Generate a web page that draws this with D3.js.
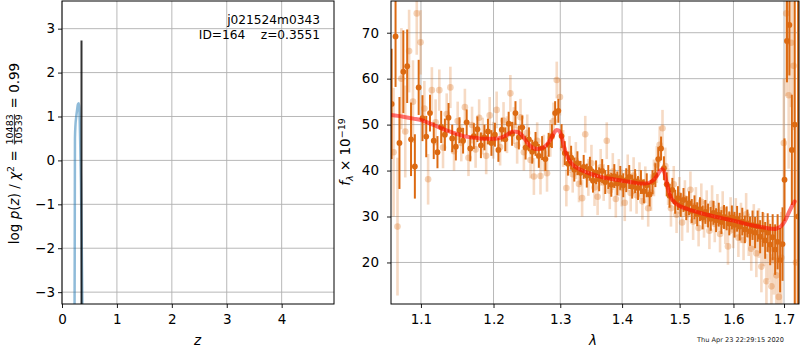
<!DOCTYPE html>
<html><head><meta charset="utf-8">
<script src="https://cdn.jsdelivr.net/npm/d3@7"></script>
<style>
body{margin:0;background:#fff}
svg text{font-family:"DejaVu Sans",sans-serif;white-space:pre}
</style>
</head><body>
<svg id="c" width="800" height="350"></svg>
<script>
// ---------- left panel data: log p(z) ----------
const zGrid  = [0.225,0.232,0.236,0.245,0.26,0.275,0.29,0.305,0.315,0.33,0.345,0.36,0.375,0.385];
const logPz  = [-5.0,-2.0,0.5,0.8,1.0,1.15,1.28,1.3,1.2,0.5,-0.5,-2.0,-3.8,-5.0];
const zBest = 0.3551;
const logPzBest = 2.73;
const zTicks  = [0,1,2,3,4];
const pzTicks = [-3,-2,-1,0,1,2,3];
const fieldName = "j021524m0343";
const idText = "ID=164    z=0.3551";

// ---------- right panel data: spectrum ----------
const waveTicks = [1.1,1.2,1.3,1.4,1.5,1.6,1.7];
const fluxTicks = [20,30,40,50,60,70];

const darkWave = [1.062,1.067,1.072,1.077,1.082,1.087,1.092,1.097,
1.102,1.107,1.112,1.117,1.122,1.127,1.132,1.137,1.142,1.147,
1.152,1.157,1.162,1.167,1.172,1.177,1.182,1.187,1.192,1.197,
1.202,1.207,1.212,1.217,1.222,1.227,1.232,1.237,1.242,1.247,
1.252,1.257,1.262,1.267,1.272,1.277,1.282,1.287,1.292,1.297,
1.302,1.307,1.312,1.317,1.322,1.327,1.332,1.337,1.342,1.347,
1.352,1.357,1.362,1.367,1.372,1.377,1.382,1.387,1.392,1.397,
1.402,1.407,1.412,1.417,1.422,1.427,1.432,1.437,1.442,1.447,
1.452,1.457,1.462,1.467,1.472,1.477,1.482,1.487,1.492,1.497,
1.502,1.507,1.512,1.517,1.522,1.527,1.532,1.537,1.542,1.547,
1.552,1.557,1.562,1.567,1.572,1.577,1.582,1.587,1.592,1.597,
1.602,1.607,1.612,1.617,1.622,1.627,1.632,1.637,1.642,1.647,
1.652,1.657,1.662,1.667,1.672,1.677,1.682,1.687,1.692,1.697,
1.701,1.706,1.711,1.716,1.722,1.729];
const darkFlux = [54.5,69.2,46.0,61.5,62.7,46.8,40.9,58.1,
51.4,47.4,52.5,46.5,44.0,49.5,47.8,51.5,47.0,45.2,
48.8,46.5,50.5,44.8,47.5,49.0,45.5,47.2,48.5,46.0,
47.8,44.5,48.9,46.8,50.2,48.0,52.5,47.2,49.4,45.0,
46.8,44.1,45.8,43.2,44.9,42.5,45.6,47.5,52.5,53.0,
47.5,43.8,41.5,42.8,40.2,41.6,39.5,40.8,38.9,40.4,
37.8,39.6,38.1,39.9,37.5,38.6,36.9,38.8,37.2,38.4,
36.8,37.9,38.6,36.5,37.7,36.2,37.5,35.5,36.8,34.8,
37.5,39.0,42.5,44.8,40.5,37.0,34.5,35.8,33.2,34.0,
32.5,33.6,31.8,32.9,31.2,32.0,30.5,31.6,29.8,31.0,
30.2,29.5,30.8,29.2,30.4,28.8,29.9,29.6,28.5,29.8,
28.2,29.5,27.8,28.9,27.2,28.5,26.8,28.1,26.5,27.9,
25.6,27.2,24.8,26.5,23.9,25.5,22.8,24.5,20.5,24.0,
38.0,68.2,71.7,44.5,50.0,30.0];
const darkErr = [12,11,10,9,8,8,7,6,
5,4.5,4,4,3.5,3.5,3.5,3.2,3,3,
2.8,2.8,2.8,2.8,2.8,2.8,2.8,2.8,2.8,2.8,
2.6,2.6,2.6,2.6,2.6,2.6,2.6,2.6,2.6,2.6,
2.6,2.6,2.6,2.6,2.6,2.6,2.6,2.6,2.6,2.6,
2.6,2.6,2.6,2.6,2.6,2.6,2.6,2.6,2.6,2.6,
2.6,2.6,2.6,2.6,2.6,2.6,2.6,2.6,2.6,2.6,
2.6,2.6,2.6,2.6,2.6,2.6,2.6,2.6,2.6,2.6,
2.6,2.6,2.6,2.6,2.6,2.6,2.6,2.6,2.6,2.6,
2.6,2.6,2.6,2.6,2.6,2.6,2.6,2.6,2.6,2.6,
2.6,2.6,2.6,2.6,2.6,2.6,2.6,2.6,2.6,2.6,
2.8,2.8,3,3,3,3,3.2,3.2,3.4,3.4,
3.6,3.8,4,4.2,4.5,5,5.5,6,7,8,
9,9,11,12,45,55];

const lightWave = [1.0645,1.0695,1.0745,1.0795,1.0845,1.0895,1.0945,1.0995,
1.1045,1.1095,1.1145,1.1195,1.1245,1.1295,1.1345,1.1395,1.1445,1.1495,
1.1545,1.1595,1.1645,1.1695,1.1745,1.1795,1.1845,1.1895,1.1945,1.1995,
1.2045,1.2095,1.2145,1.2195,1.2245,1.2295,1.2345,1.2395,1.2445,1.2495,
1.2545,1.2595,1.2645,1.2695,1.2745,1.2795,1.2845,1.2895,1.2945,1.2995,
1.3045,1.3095,1.3145,1.3195,1.3245,1.3295,1.3345,1.3395,1.3445,1.3495,
1.3545,1.3595,1.3645,1.3695,1.3745,1.3795,1.3845,1.3895,1.3945,1.3995,
1.4045,1.4095,1.4145,1.4195,1.4245,1.4295,1.4345,1.4395,1.4445,1.4495,
1.4545,1.4595,1.4645,1.4695,1.4745,1.4795,1.4845,1.4895,1.4945,1.4995,
1.5045,1.5095,1.5145,1.5195,1.5245,1.5295,1.5345,1.5395,1.5445,1.5495,
1.5545,1.5595,1.5645,1.5695,1.5745,1.5795,1.5845,1.5895,1.5945,1.5995,
1.6045,1.6095,1.6145,1.6195,1.6245,1.6295,1.6345,1.6395,1.6445,1.6495,
1.6545,1.6595,1.6645,1.6695,1.6745,1.6795,1.6845,1.6895,1.6945,1.6995,
1.7045,1.7095,1.7145,1.7195,1.7245];
const lightFlux = [44.0,27.8,60.0,48.5,66.0,55.0,74.2,67.9,
53.5,38.1,57.5,50.5,57.5,45.0,52.3,58.1,44.2,50.8,
46.0,53.8,42.8,49.9,44.6,51.5,47.5,43.2,52.0,46.6,
53.2,45.1,50.9,47.8,56.8,49.8,45.5,51.6,44.0,48.2,
42.3,38.7,46.5,38.8,43.8,39.4,47.0,50.8,59.7,56.0,
44.8,36.2,43.5,39.2,42.2,37.1,34.0,47.9,38.5,41.6,
36.3,34.3,40.7,37.4,46.5,35.6,39.8,33.8,38.5,36.2,
33.0,39.5,35.1,38.9,34.6,37.8,33.3,36.9,31.8,35.2,
38.4,41.3,45.6,49.2,41.0,36.5,31.8,37.0,30.4,34.6,
28.7,33.9,30.5,35.8,28.9,32.4,27.5,33.2,29.4,31.7,
26.9,32.8,28.4,30.9,26.2,31.5,28.0,23.5,30.2,27.1,
29.8,25.4,28.6,24.9,30.5,26.0,23.0,27.7,22.0,26.4,
19.1,25.0,15.9,22.8,14.8,20.5,17.2,12.5,21.0,46.0,
74.2,56.4,67.8,62.8,20.0];
const lightErr = [14,15,11,10,9,9,9,7,
6,5.5,5,5,4.5,4.5,4.5,4.5,4.2,4.2,
4,4,4,4,4,4,4,4,4,4,
4,4,4,4,4,4,4,4,4,4,
4,4,4,4,4,4,4,4,4,4,
4,4,4,4,4,4,4,4,4,4,
4,4,4,4,4,4,4,4,4,4,
4,4,4,4,4,4,4,4,4,4,
4,4,4,4,4,4,4,4,4,4,
4,4,4,4,4,4,4,4,4,4,
4,4,4,4,4,4,4,4,4,4,
4.2,4.2,4.4,4.4,4.6,4.6,4.8,5,5.2,5.4,
5.6,5.8,6,6.5,7,7.5,8,9,10,14,
18,16,14,14,30];

const modelWave = [1.061,1.07,1.08,1.09,1.10,1.11,1.12,1.13,1.14,1.15,1.16,1.17,1.18,1.19,1.20,1.21,1.215,1.22,1.225,1.23,1.235,1.24,1.245,1.25,1.255,1.26,1.265,1.27,1.275,1.28,1.285,1.29,1.294,1.298,1.302,1.306,1.31,1.315,1.32,1.33,1.34,1.35,1.36,1.38,1.40,1.42,1.43,1.44,1.45,1.455,1.46,1.465,1.469,1.473,1.477,1.481,1.485,1.49,1.50,1.51,1.52,1.54,1.56,1.58,1.60,1.62,1.64,1.66,1.67,1.68,1.685,1.69,1.695,1.70,1.705,1.71,1.715,1.722];
const modelFlux = [52.1,51.9,51.6,51.3,51.0,50.4,49.7,49.0,48.4,47.9,47.4,47.2,47.0,46.9,46.9,47.1,47.4,47.8,48.3,48.5,48.4,47.9,47.0,46.0,45.2,44.8,44.7,44.8,45.1,45.8,46.8,48.1,48.8,48.7,47.4,45.2,43.4,42.0,41.2,40.3,39.7,39.2,38.8,38.2,37.8,37.4,37.2,37.2,37.6,38.1,38.9,39.9,40.3,39.5,37.3,35.3,34.0,33.2,32.3,31.8,31.4,30.7,30.1,29.6,29.1,28.5,28.0,27.6,27.4,27.3,27.4,27.6,28.0,28.7,29.7,30.9,32.0,33.3];

const timeStamp = "Thu Apr 23 22:29:15 2020";

// ---------- drawing ----------
const svg = d3.select("#c");
const FS = 13.5;
const gridColor = "#b0b0b0";
const orange = "#dc6a12";

function panel(x0, x1, y0, y1, id){
  svg.append("clipPath").attr("id", id).append("rect")
    .attr("x", x0).attr("y", y0).attr("width", x1 - x0).attr("height", y1 - y0);
}
function styleAxis(g){
  g.selectAll("path").attr("stroke","none");
  g.selectAll("line").attr("stroke","#000").attr("stroke-width",0.9);
  g.selectAll("text").attr("font-size",FS).attr("fill","#000")
   .attr("font-family","DejaVu Sans, sans-serif");
}
function frame(x0,x1,y0,y1){
  svg.append("rect").attr("x",x0).attr("y",y0).attr("width",x1-x0).attr("height",y1-y0)
    .attr("fill","none").attr("stroke","#000").attr("stroke-width",1);
}

// ===== Left panel =====
const L = {x0:62, x1:334, y0:1, y1:304};
const xL = d3.scaleLinear().domain([0,4.953]).range([L.x0,L.x1]);
const yL = d3.scaleLinear().domain([-3.27,3.63]).range([L.y1,L.y0]);
panel(L.x0,L.x1,L.y0,L.y1,"clipL");

const gL = svg.append("g");
gL.selectAll(".gx").data(zTicks).enter().append("line")
  .attr("x1",d=>xL(d)).attr("x2",d=>xL(d)).attr("y1",L.y0).attr("y2",L.y1)
  .attr("stroke",gridColor).attr("stroke-width",0.9);
gL.selectAll(".gy").data(pzTicks).enter().append("line")
  .attr("x1",L.x0).attr("x2",L.x1).attr("y1",d=>yL(d)).attr("y2",d=>yL(d))
  .attr("stroke",gridColor).attr("stroke-width",0.9);

const dL = svg.append("g").attr("clip-path","url(#clipL)");
dL.append("path").datum(zGrid.map((z,i)=>[z,logPz[i]]))
  .attr("d", d3.line().x(d=>xL(d[0])).y(d=>yL(d[1])).curve(d3.curveMonotoneX))
  .attr("fill","none").attr("stroke","#1f77b4").attr("stroke-opacity",0.5).attr("stroke-width",2.5);
dL.append("line").attr("x1",xL(zBest)).attr("x2",xL(zBest))
  .attr("y1",yL(-3.27)).attr("y2",yL(logPzBest))
  .attr("stroke","#000").attr("stroke-opacity",0.8).attr("stroke-width",2);

frame(L.x0,L.x1,L.y0,L.y1);
const axLx = svg.append("g").attr("transform",`translate(0,${L.y1})`)
  .call(d3.axisBottom(xL).tickValues(zTicks).tickFormat(d3.format("d")).tickSize(4).tickPadding(6));
styleAxis(axLx);
const axLy = svg.append("g").attr("transform",`translate(${L.x0},0)`)
  .call(d3.axisLeft(yL).tickValues(pzTicks).tickFormat(d3.format("d")).tickSize(4).tickPadding(3));
styleAxis(axLy);

svg.append("text").attr("x",320).attr("y",24).attr("text-anchor","end")
  .attr("font-size",12.2).text(fieldName);
svg.append("text").attr("x",320).attr("y",38.5).attr("text-anchor","end")
  .attr("font-size",12.2).text(idText);

svg.append("text").attr("x",xL(2.47)).attr("y",345).attr("text-anchor","middle")
  .attr("font-size",FS).attr("font-style","italic").text("z");

// math label helper (horizontal layout inside a rotated group)
function mathLabel(g, parts){
  let x = 0;
  parts.forEach(p=>{
    if (p.frac){
      const n = g.append("text").attr("font-size",p.size).attr("y",-6.2).attr("text-anchor","middle").text(p.frac[0]);
      const d = g.append("text").attr("font-size",p.size).attr("y",3.0).attr("text-anchor","middle").text(p.frac[1]);
      const w = Math.max(n.node().getComputedTextLength(), d.node().getComputedTextLength());
      n.attr("x", x+1.5+w/2); d.attr("x", x+1.5+w/2);
      g.append("line").attr("x1",x+1.5).attr("x2",x+1.5+w).attr("y1",-4.6).attr("y2",-4.6)
        .attr("stroke","#000").attr("stroke-width",0.8);
      x += w + 3;
    } else {
      const t = g.append("text").attr("x",x).attr("y",p.dy||0)
        .attr("font-size",p.size||FS).attr("font-style",p.italic?"italic":"normal").text(p.t);
      x += t.node().getComputedTextLength();
    }
  });
  return x;
}
const labL = svg.append("g");
const wL = mathLabel(labL, [
  {t:"log "},{t:"p",italic:true},{t:"("},{t:"z",italic:true},{t:") / "},
  {t:"χ",italic:true},{t:"2",size:9.5,dy:-5.5},{t:" = "},
  {frac:["10483","10539"],size:9.5},{t:" = 0.99"}
]);
labL.attr("transform",`translate(19,${153.5 + wL/2}) rotate(-90)`);

// ===== Right panel =====
const R = {x0:391, x1:799, y0:1, y1:304};
const xR = d3.scaleLog().domain([1.0612,1.7308]).range([R.x0,R.x1]);
const yR = d3.scaleLinear().domain([10.96,76.9]).range([R.y1,R.y0]);
panel(R.x0,R.x1,R.y0,R.y1,"clipR");

const gR = svg.append("g");
gR.selectAll(".gx").data(waveTicks).enter().append("line")
  .attr("x1",d=>xR(d)).attr("x2",d=>xR(d)).attr("y1",R.y0).attr("y2",R.y1)
  .attr("stroke",gridColor).attr("stroke-width",0.9);
gR.selectAll(".gy").data(fluxTicks).enter().append("line")
  .attr("x1",R.x0).attr("x2",R.x1).attr("y1",d=>yR(d)).attr("y2",d=>yR(d))
  .attr("stroke",gridColor).attr("stroke-width",0.9);

const dR = svg.append("g").attr("clip-path","url(#clipR)");
const light = lightWave.map((w,i)=>({w, f:lightFlux[i], e:lightErr[i]}));
const dark  = darkWave.map((w,i)=>({w, f:darkFlux[i], e:darkErr[i]}));

dR.append("g").selectAll("line").data(light).enter().append("line")
  .attr("x1",d=>xR(d.w)).attr("x2",d=>xR(d.w))
  .attr("y1",d=>yR(d.f-d.e)).attr("y2",d=>yR(d.f+d.e))
  .attr("stroke",orange).attr("stroke-opacity",0.25).attr("stroke-width",2.6);
dR.append("g").selectAll("circle").data(light).enter().append("circle")
  .attr("cx",d=>xR(d.w)).attr("cy",d=>yR(d.f)).attr("r",3.3)
  .attr("fill",orange).attr("fill-opacity",0.3);

dR.append("g").selectAll("line").data(dark).enter().append("line")
  .attr("x1",d=>xR(d.w)).attr("x2",d=>xR(d.w))
  .attr("y1",d=>yR(d.f-d.e)).attr("y2",d=>yR(d.f+d.e))
  .attr("stroke",orange).attr("stroke-width",2);
dR.append("g").selectAll("circle").data(dark).enter().append("circle")
  .attr("cx",d=>xR(d.w)).attr("cy",d=>yR(d.f)).attr("r",2.9)
  .attr("fill",orange);

dR.append("path").datum(modelWave.map((w,i)=>[w,modelFlux[i]]))
  .attr("d", d3.line().x(d=>xR(d[0])).y(d=>yR(d[1])).curve(d3.curveMonotoneX))
  .attr("fill","none").attr("stroke","red").attr("stroke-opacity",0.55)
  .attr("stroke-width",4).attr("stroke-linejoin","round").attr("stroke-linecap","round");

frame(R.x0,R.x1,R.y0,R.y1);
const axRx = svg.append("g").attr("transform",`translate(0,${R.y1})`)
  .call(d3.axisBottom(xR).tickValues(waveTicks).tickFormat(d3.format(".1f")).tickSize(4).tickPadding(6));
styleAxis(axRx);
const axRy = svg.append("g").attr("transform",`translate(${R.x0},0)`)
  .call(d3.axisLeft(yR).tickValues(fluxTicks).tickFormat(d3.format("d")).tickSize(4).tickPadding(8));
styleAxis(axRy);

svg.append("text").attr("x",593).attr("y",345).attr("text-anchor","middle")
  .attr("font-size",FS).attr("font-style","italic").text("λ");

const labR = svg.append("g");
const wR = mathLabel(labR, [
  {t:"f",italic:true},{t:"λ",italic:true,size:9.5,dy:3},{t:" × 10"},{t:"−19",size:9.5,dy:-5.5}
]);
labR.attr("transform",`translate(350,${152 + wR/2}) rotate(-90)`);

svg.append("text").attr("x",697).attr("y",342).attr("font-size",6.6).attr("fill","#222").text(timeStamp);
</script>
</body></html>
